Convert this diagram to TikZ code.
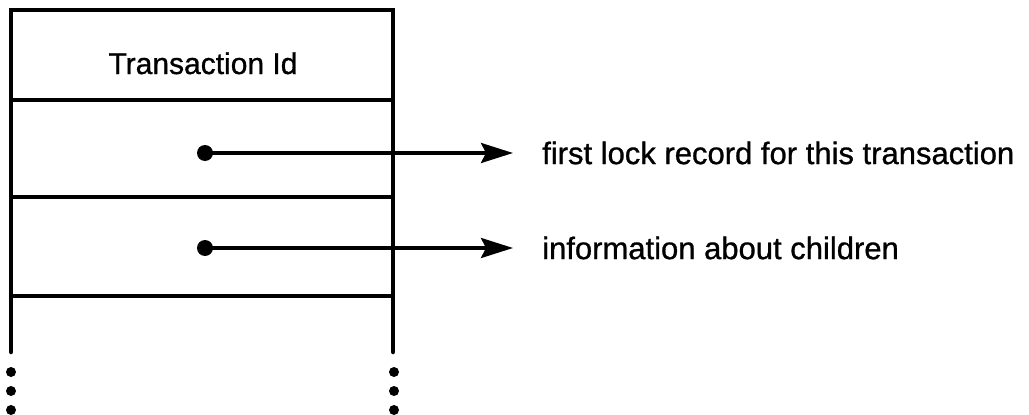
\documentclass[tikz,border=0pt]{standalone}
\usepackage{fontspec}
\setmainfont{Liberation Sans}
\newfontfamily\printface[FakeBold=0.9]{Liberation Sans}
\usetikzlibrary{arrows.meta}
\begin{document}
\begin{tikzpicture}[x=1pt,y=-1pt,
  rule/.style={line width=4.5pt},
  pointer/.style={line width=3.2pt,-{Stealth[length=32pt,width=20pt,inset=5pt]}},
  bullet/.style={circle,fill=black,inner sep=0pt,minimum size=16pt},
  elide/.style={circle,fill=black,inner sep=0pt,minimum size=10pt},
  label/.style={anchor=west,inner xsep=29pt,inner ysep=0pt,font=\printface\fontsize{31}{36}\selectfont},
  cell/.style={font=\printface\fontsize{30}{36}\selectfont,inner sep=0pt}]
\useasboundingbox (0,0) rectangle (1029,415);

% record frame
\coordinate (tl) at (11,10);
\coordinate (tr) at (393,10);
\coordinate (bl) at (11,352);
\coordinate (br) at (393,352);
\draw[rule,line cap=round] (bl) -- (tl) -- (tr) -- (br);
\coordinate (d1l) at (11,100);  \coordinate (d1r) at (393,100);
\coordinate (d2l) at (11,197);  \coordinate (d2r) at (393,197);
\coordinate (d3l) at (11,296);  \coordinate (d3r) at (393,296);
\draw[rule] (d1l) -- (d1r);
\draw[rule] (d2l) -- (d2r);
\draw[rule] (d3l) -- (d3r);

% field contents
\node[cell,anchor=base] (tid) at (203,74) {Transaction Id};
\node[bullet] (p1) at (205,153) {};
\node[bullet] (p2) at (205,248) {};
\node[label] (l1) at (513,153) {first lock record for this transaction};
\node[label] (l2) at (513,248) {information about children};
\draw[pointer] (p1.center) -- (l1.west);
\draw[pointer] (p2.center) -- (l2.west);

% continuation marks
\foreach \y [count=\i] in {372,391,410} {
  \node[elide] (cl\i) at (11,\y) {};
  \node[elide] (cr\i) at (394,\y) {};
}
\end{tikzpicture}
\end{document}
